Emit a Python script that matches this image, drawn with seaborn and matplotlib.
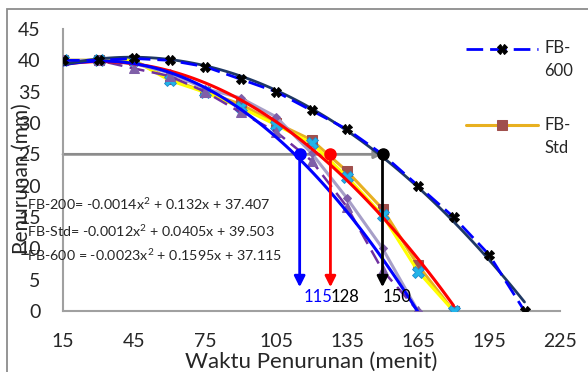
import numpy as np
import pandas as pd
import seaborn as sns
import matplotlib
matplotlib.use("Agg")
import matplotlib.pyplot as plt
from matplotlib.patches import Rectangle

# ==== data ====
waktu_600 = [15, 30, 45, 60, 75, 90, 105, 120, 135, 150, 165, 180, 195, 210]
fb_600 = [40, 40, 40.3, 40, 39, 37, 35, 32, 29, 25, 20, 15, 9, 0]

waktu_std = [15, 30, 45, 60, 75, 90, 105, 120, 135, 150, 165, 180]
fb_std = [40, 40, 40, 37, 35, 33, 30, 27.3, 22.3, 16.3, 7.3, 0]
fb_cyan = [40, 40, 40, 36.8, 34.9, 32.5, 29.7, 26.8, 21.4, 15.3, 6.3, 0]

waktu_200 = [15, 30, 45, 60, 75, 90, 105, 120, 135, 150, 165]
fb_ungu = [40, 40, 38.7, 37.5, 35, 31.7, 28.6, 24, 16.6, 6.5, 0]
fb_abu = [40, 40, 39.5, 38, 35.5, 34, 31, 25.2, 18, 10, 0]

# titik potong pada penurunan 25 mm
potong_x = [115, 128, 150]
potong_y = [25, 25, 25]
potong_warna = ["#0000FF", "#FF0000", "#000000"]
potong_label = ["115", "128", "150"]
label_warna = ["#0000FF", "#000000", "#000000"]
label_x = [122.7, 134.2, 156.1]

persamaan = [
    "FB-200= -0.0014x$^2$ + 0.132x + 37.407",
    "FB-Std= -0.0012x$^2$ + 0.0405x + 39.503",
    "FB-600 = -0.0023x$^2$ + 0.1595x + 37.115",
]

xticks = [15, 45, 75, 105, 135, 165, 195, 225]
yticks = [0, 5, 10, 15, 20, 25, 30, 35, 40, 45]

sns.set_style("white")
plt.rcParams['font.family'] = ['Lato', 'DejaVu Sans']
plt.rcParams['mathtext.fontset'] = 'custom'
plt.rcParams['mathtext.rm'] = 'Lato'

fig = plt.figure(figsize=(5.88, 3.72), dpi=100)
ax = fig.add_axes([63 / 588, 1 - 311 / 372, 497 / 588, 282 / 372])

# ---- data series ----
sns.lineplot(x=waktu_std, y=fb_cyan, ax=ax, color="#FFFF00", lw=2.2,
             marker="X", markersize=9, markerfacecolor="#22B4E8",
             markeredgecolor="#1E8AD0", markeredgewidth=0.6, zorder=3)
h_std = sns.lineplot(x=waktu_std, y=fb_std, ax=ax, color="#E8B020", lw=2.2,
                     marker="s", markersize=7, markerfacecolor="#A0504D",
                     markeredgecolor="#A0504D", zorder=2).lines[-1]
sns.lineplot(x=waktu_200, y=fb_abu, ax=ax, color="#A79FC8", lw=2.2,
             marker="D", markersize=4, markerfacecolor="#7F5FA8",
             markeredgecolor="#7F5FA8", zorder=3)
sns.lineplot(x=waktu_200, y=fb_ungu, ax=ax, color="#7030A0", lw=1.8,
             dashes=(6, 3), marker="^", markersize=7,
             markerfacecolor="#7F5FA8", markeredgecolor="#7F5FA8", zorder=3)

# ---- trendline polinomial orde 2 ----
sns.regplot(x=waktu_std, y=fb_std, ax=ax, order=2, ci=None, scatter=False,
            line_kws=dict(color="#FF0000", lw=2.2, zorder=4))
sns.regplot(x=waktu_200, y=fb_ungu, ax=ax, order=2, ci=None, scatter=False,
            line_kws=dict(color="#0000FF", lw=2.2, zorder=4))
sns.regplot(x=waktu_600, y=fb_600, ax=ax, order=2, ci=None, scatter=False,
            line_kws=dict(color="#1F3864", lw=2, zorder=4))

h_600 = sns.lineplot(x=waktu_600, y=fb_600, ax=ax, color="#0000FF", lw=2,
                     dashes=(6, 2.5), marker="X", markersize=7,
                     markerfacecolor="black", markeredgecolor="black",
                     zorder=5).lines[-1]

# ---- garis bantu 25 mm ----
ax.annotate("", xy=(150, 25), xytext=(15, 25),
            arrowprops=dict(arrowstyle="-|>", color="#8C8C8C", lw=2,
                            mutation_scale=12, shrinkA=0, shrinkB=0), zorder=2)
for px, py, c in zip(potong_x, potong_y, potong_warna):
    ax.annotate("", xy=(px, 3.8), xytext=(px, py),
                arrowprops=dict(arrowstyle="-|>", color=c, lw=2,
                                mutation_scale=16, shrinkA=0, shrinkB=0),
                zorder=6)
    ax.plot(px, py, "o", color=c, markersize=8, zorder=7)
for lx, t, c in zip(label_x, potong_label, label_warna):
    ax.text(lx, 2.2, t, color=c, fontsize=12, ha="center", va="center",
            zorder=8)

for i, eq in enumerate(persamaan):
    ax.text(-0.072, [0.379, 0.284, 0.199][i], eq, transform=ax.transAxes,
            fontsize=10.3, ha="left", va="center", clip_on=False, zorder=8)

# ---- sumbu ----
ax.set_xlim(15, 225)
ax.set_ylim(0, 45)
ax.set_xticks(xticks)
ax.set_yticks(yticks)
ax.tick_params(axis="both", labelsize=14, length=5, width=1.3,
               color="#A0A0A0", direction="out")
ax.tick_params(axis="x", pad=11)
ax.tick_params(axis="y", pad=11)
for s in ["top", "right"]:
    ax.spines[s].set_visible(False)
for s in ["left", "bottom"]:
    ax.spines[s].set_color("#A0A0A0")
    ax.spines[s].set_linewidth(1.5)
ax.set_xlabel("Waktu Penurunan (menit)", fontsize=16, labelpad=1)
ax.set_ylabel("Penurunan (mm)", fontsize=15)
ax.yaxis.set_label_coords(-0.062, 0.47)

leg = ax.legend([h_600, h_std], ["\nFB-\n600", "\nFB-\nStd"],
                loc="upper left", bbox_to_anchor=(466 / 588, 1 - 17 / 372),
                bbox_transform=fig.transFigure, frameon=False, fontsize=12,
                handlelength=4.3, handletextpad=0.4, labelspacing=0.85,
                borderpad=0, borderaxespad=0)
for t in leg.get_texts():
    t.set_linespacing(1.55)
leg.set_zorder(10)

fig.add_artist(Rectangle((7 / 588, -0.1), 1.2, 1.1 - 9 / 372,
                         transform=fig.transFigure, fill=False,
                         edgecolor="#8C8C8C", lw=1.3))

plt.savefig("out.png", dpi=100)
